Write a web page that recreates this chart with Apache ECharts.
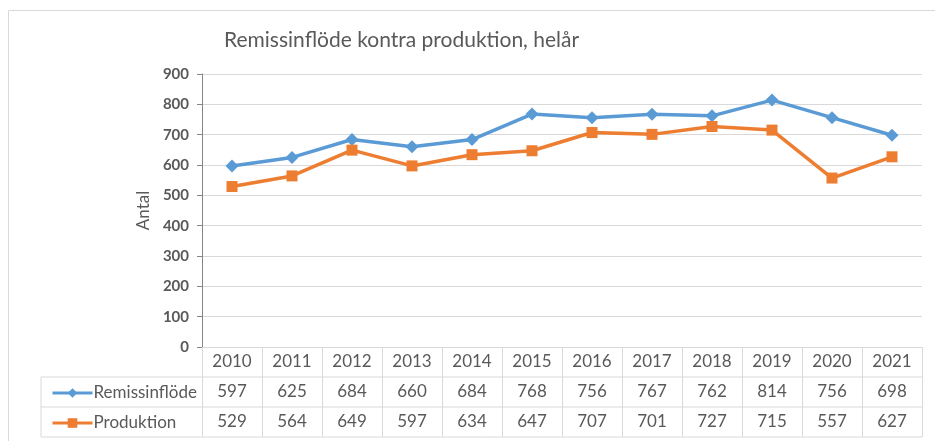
<!DOCTYPE html>
<html>
<head>
<meta charset="utf-8">
<script src="https://cdn.jsdelivr.net/npm/echarts@6/dist/echarts.min.js"></script>
<style>
  html, body { margin: 0; padding: 0; background: #fff; }
  #chart { width: 935px; height: 441px; }
</style>
</head>
<body>
<div id="chart"></div>
<script>
// data
var years = ["2010", "2011", "2012", "2013", "2014", "2015", "2016", "2017", "2018", "2019", "2020", "2021"];
var remissinflode = [597, 625, 684, 660, 684, 768, 756, 767, 762, 814, 756, 698];
var produktion = [529, 564, 649, 597, 634, 647, 707, 701, 727, 715, 557, 627];
var yTicks = [0, 100, 200, 300, 400, 500, 600, 700, 800, 900];

var grey = "#595959";
var lineCol = "#d9d9d9";
var font = "Lato";

var myChart = echarts.init(document.getElementById("chart"));

var option = {
  animation: false,
  textStyle: { fontFamily: font },
  title: {
    text: "Remissinflöde kontra produktion, helår",
    left: 219,
    top: 25,
    textStyle: { fontFamily: font, fontSize: 21, fontWeight: "normal", color: grey }
  },
  grid: { left: 202, right: 13, top: 74, bottom: 94 },
  legend: {
    orient: "vertical",
    left: 46,
    top: 378,
    itemWidth: 40,
    itemHeight: 12,
    itemGap: 10,
    lineStyle: { width: 3 },
    textStyle: { fontFamily: font, fontSize: 17, color: grey, lineHeight: 20, padding: [0, 0, 0, -4] },
    data: ["Remissinflöde", "Produktion"]
  },
  xAxis: {
    type: "category",
    data: years,
    boundaryGap: true,
    axisLine: { lineStyle: { color: lineCol, width: 1 } },
    axisTick: { show: true, interval: 0, length: 90, inside: false, lineStyle: { color: lineCol } },
    axisLabel: {
      interval: 0,
      margin: 0,
      formatter: function (v, i) {
        return "{a|" + v + "}\n{a|" + remissinflode[i] + "}\n{a|" + produktion[i] + "}";
      },
      rich: {
        a: { fontFamily: font, fontSize: 17, color: grey, lineHeight: 30, align: "center" }
      }
    },
    splitLine: { show: false }
  },
  yAxis: {
    type: "value",
    min: 0,
    max: 900,
    interval: 100,
    name: "Antal",
    nameLocation: "middle",
    nameGap: 50,
    nameRotate: 90,
    nameTextStyle: { fontFamily: font, fontSize: 17, color: grey },
    axisLine: { show: true, lineStyle: { color: "#868686" } },
    axisTick: { show: true, length: 5, lineStyle: { color: "#868686" } },
    axisLabel: {
      margin: 13,
      fontFamily: font,
      fontSize: 15,
      fontWeight: "bold",
      color: grey,
      formatter: function (v) { return yTicks.indexOf(v) >= 0 ? String(v) : ""; }
    },
    splitLine: { lineStyle: { color: lineCol, width: 1 } }
  },
  series: [
    {
      name: "Remissinflöde",
      type: "line",
      data: remissinflode,
      symbol: "diamond",
      symbolSize: 13,
      lineStyle: { width: 3.5, color: "#5b9bd5" },
      itemStyle: { color: "#5b9bd5" }
    },
    {
      name: "Produktion",
      type: "line",
      data: produktion,
      symbol: "rect",
      symbolSize: 11,
      lineStyle: { width: 3.5, color: "#ed7d31" },
      itemStyle: { color: "#ed7d31" }
    }
  ],
  graphic: [
    // outer chart frame
    { type: "rect", left: 6, top: 8, shape: { width: 1000, height: 500 },
      style: { fill: null, stroke: lineCol, lineWidth: 1 }, silent: true },
    // data table horizontal lines
    { type: "line", shape: { x1: 41, y1: 377, x2: 922, y2: 377 }, style: { stroke: lineCol, lineWidth: 1 } },
    { type: "line", shape: { x1: 41, y1: 407, x2: 922, y2: 407 }, style: { stroke: lineCol, lineWidth: 1 } },
    { type: "line", shape: { x1: 41, y1: 437, x2: 922, y2: 437 }, style: { stroke: lineCol, lineWidth: 1 } },
    { type: "line", shape: { x1: 41, y1: 377, x2: 41, y2: 437 }, style: { stroke: lineCol, lineWidth: 1 } }
  ]
};

option && myChart.setOption(option);
window.addEventListener("resize", function () {
  myChart.resize();
});
</script>
</body>
</html>
